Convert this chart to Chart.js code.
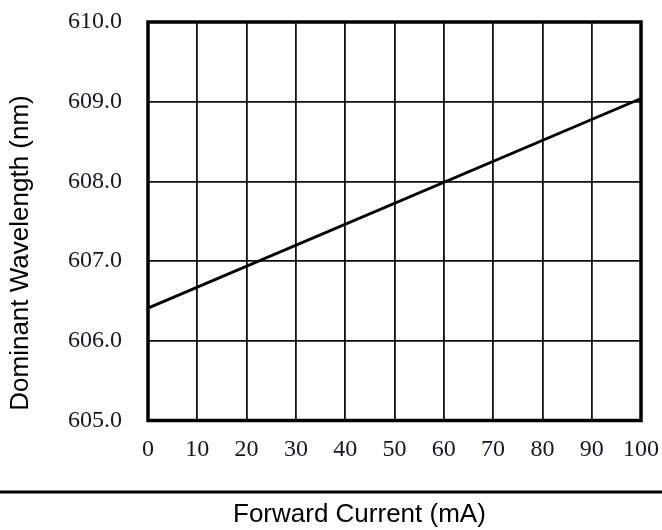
<!DOCTYPE html>
<html>
<head>
<meta charset="utf-8">
<script src="https://cdn.jsdelivr.net/npm/chart.js@4/dist/chart.umd.min.js"></script>
<style>
  html, body { margin: 0; padding: 0; background: #ffffff; }
  #wrap { width: 662px; height: 530px; position: relative; }
</style>
</head>
<body>
<div id="wrap"><canvas id="c" width="662" height="530"></canvas></div>
<script>
// Forward current (mA) vs dominant wavelength (nm)
const currentMA = [0, 100];
const wavelengthNM = [606.41, 609.04];
const xTicks = [0, 10, 20, 30, 40, 50, 60, 70, 80, 90, 100];
const yTicks = [605.0, 606.0, 607.0, 608.0, 609.0, 610.0];
const xTitle = 'Forward Current (mA)';
const yTitle = 'Dominant Wavelength (nm)';

const points = currentMA.map((x, i) => ({ x: x, y: wavelengthNM[i] }));

const titleFont = "26px 'Liberation Sans', Arial, sans-serif";

// Axis titles and the rule that separates the x title from the tick labels
const captions = {
  id: 'captions',
  afterDraw(chart) {
    const ctx = chart.ctx;
    const a = chart.chartArea;
    ctx.save();
    // separator rule
    ctx.strokeStyle = '#000';
    ctx.lineWidth = 3;
    ctx.beginPath();
    ctx.moveTo(0, a.bottom + 71.5);
    ctx.lineTo(chart.width, a.bottom + 71.5);
    ctx.stroke();
    // x title
    ctx.fillStyle = '#000';
    ctx.font = titleFont;
    ctx.textAlign = 'left';
    ctx.textBaseline = 'middle';
    ctx.fillText(xTitle, 233, a.bottom + 94);
    // y title
    ctx.translate(21, 253);
    ctx.rotate(-Math.PI / 2);
    ctx.textAlign = 'center';
    ctx.fillText(yTitle, 0, 0);
    ctx.restore();
  }
};

// Thick frame round the plot area
const frame = {
  id: 'frame',
  afterDatasetsDraw(chart) {
    const a = chart.chartArea;
    const ctx = chart.ctx;
    ctx.save();
    ctx.strokeStyle = '#000';
    ctx.lineWidth = 3.5;
    ctx.strokeRect(a.left, a.top, a.right - a.left, a.bottom - a.top);
    ctx.restore();
  }
};

const tickFont = { family: "'Liberation Serif', 'Times New Roman', serif", size: 24 };

new Chart(document.getElementById('c'), {
  type: 'line',
  data: {
    datasets: [{
      data: points,
      borderColor: '#000',
      borderWidth: 2.8,
      pointRadius: 0,
      tension: 0,
      fill: false
    }]
  },
  options: {
    responsive: false,
    animation: false,
    devicePixelRatio: 1,
    layout: { padding: { top: 22, right: 21, left: 0, bottom: 0 } },
    plugins: { legend: { display: false }, tooltip: { enabled: false } },
    scales: {
      x: {
        type: 'linear',
        min: 0,
        max: 100,
        afterBuildTicks(s) { s.ticks = xTicks.map(v => ({ value: v })); },
        afterFit(s) { s.height = 109.5; s.paddingLeft = 0; s.paddingRight = 0; },
        grid: { color: '#111', lineWidth: 1.8, drawTicks: false },
        border: { display: false },
        ticks: { color: '#14142a', font: tickFont, padding: 15, maxRotation: 0, autoSkip: false }
      },
      y: {
        type: 'linear',
        min: 605,
        max: 610,
        afterBuildTicks(s) { s.ticks = yTicks.map(v => ({ value: v })); },
        afterFit(s) { s.width = 148; s.paddingTop = 0; s.paddingBottom = 0; },
        grid: { color: '#111', lineWidth: 1.8, drawTicks: false },
        border: { display: false },
        ticks: { color: '#14142a', font: tickFont, padding: 26, callback: v => Number(v).toFixed(1) }
      }
    }
  },
  plugins: [captions, frame]
});
</script>
</body>
</html>
